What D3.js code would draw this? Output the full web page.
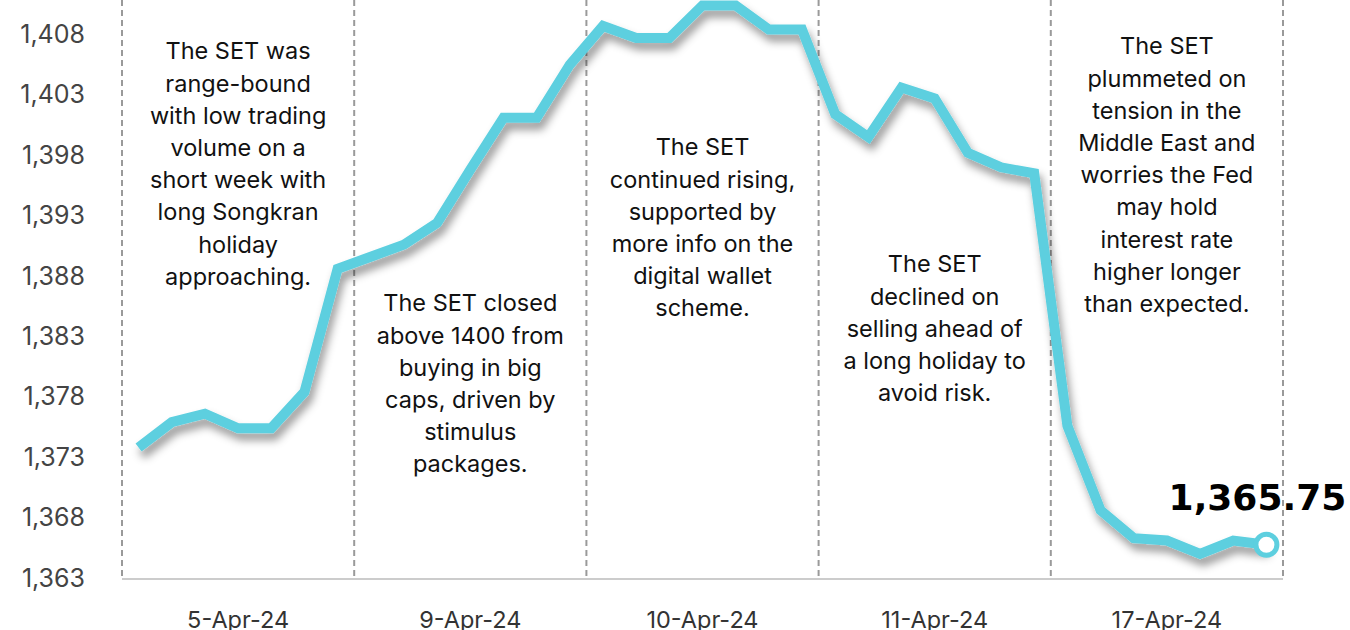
<!DOCTYPE html>
<html>
<head>
<meta charset="utf-8">
<script src="https://cdn.jsdelivr.net/npm/d3@7"></script>
<style>
  body { margin: 0; background: #fff; }
  svg { display: block; }
  .note { font-family: Inter, "Open Sans", sans-serif; font-size: 23.5px; fill: #111; }
  .ytick text { font-family: Inter, "Open Sans", sans-serif; font-size: 25px; fill: #444; }
  .xlab { font-family: Inter, "Open Sans", sans-serif; font-size: 23.5px; fill: #333; }
</style>
</head>
<body>
<div id="chart"></div>
<script>
// trading days shown along the bottom
const days = ['5-Apr-24', '9-Apr-24', '10-Apr-24', '11-Apr-24', '17-Apr-24'];
// SET index, 7 readings per day
const setIndex = [
  1373.8, 1375.9, 1376.6, 1375.4, 1375.4, 1378.4, 1388.6,
  1389.6, 1390.6, 1392.4, 1396.8, 1401.1, 1401.1, 1405.5,
  1408.7, 1407.7, 1407.7, 1410.4, 1410.4, 1408.4, 1408.4,
  1401.4, 1399.5, 1403.6, 1402.7, 1398.2, 1397.0, 1396.5,
  1375.6, 1368.6, 1366.3, 1366.1, 1365.0, 1366.1, 1365.75
];
const yTicks = [1363, 1368, 1373, 1378, 1383, 1388, 1393, 1398, 1403, 1408];
const notes = [
  ['The SET was', 'range-bound', 'with low trading', 'volume on a', 'short week with', 'long Songkran', 'holiday', 'approaching.'],
  ['The SET closed', 'above 1400 from', 'buying in big', 'caps, driven by', 'stimulus', 'packages.'],
  ['The SET', 'continued rising,', 'supported by', 'more info on the', 'digital wallet', 'scheme.'],
  ['The SET', 'declined on', 'selling ahead of', 'a long holiday to', 'avoid risk.'],
  ['The SET', 'plummeted on', 'tension in the', 'Middle East and', 'worries the Fed', 'may hold', 'interest rate', 'higher longer', 'than expected.']
];

const width = 1350, height = 630;
const left = 122, right = 1283, bottom = 578;
const noteTop = [51, 303, 147, 264, 46];   // first line centre of each note
const lineGap = 32.2;

const svg = d3.select('#chart').append('svg')
  .attr('width', width).attr('height', height);

const defs = svg.append('defs');
const shadow = defs.append('filter').attr('id', 'shadow')
  .attr('x', '-10%').attr('y', '-10%').attr('width', '130%').attr('height', '140%');
shadow.append('feDropShadow')
  .attr('dx', 3).attr('dy', 7).attr('stdDeviation', 4)
  .attr('flood-color', '#000').attr('flood-opacity', 0.4);

const x = d3.scaleBand().domain(d3.range(setIndex.length)).range([left, right]);
const xDay = d3.scaleBand().domain(days).range([left, right]);
const y = d3.scaleLinear().domain([1363, 1410.85]).range([bottom, 0]);

// y axis labels
svg.append('g')
  .attr('transform', `translate(${left},0)`)
  .call(d3.axisLeft(y).tickValues(yTicks).tickFormat(d3.format(',')).tickSize(0).tickPadding(37))
  .call(g => g.select('.domain').remove())
  .call(g => g.selectAll('.tick').attr('class', 'tick ytick'))
  .call(g => g.selectAll('text').attr('font-family', null).attr('font-size', null));

// baseline
svg.append('line')
  .attr('x1', left).attr('x2', right).attr('y1', bottom + 1).attr('y2', bottom + 1)
  .attr('stroke', '#ccc').attr('stroke-width', 2);

// day separators
const bounds = days.map(d => xDay(d)).concat([right]);
svg.append('g').selectAll('line')
  .data(bounds).join('line')
  .attr('x1', d => d).attr('x2', d => d)
  .attr('y1', 0).attr('y2', bottom + 2)
  .attr('stroke', '#9a9a9a').attr('stroke-width', 2)
  .attr('stroke-dasharray', '6,4');

// day labels
svg.append('g').selectAll('text')
  .data(days).join('text')
  .attr('class', 'xlab')
  .attr('x', d => xDay(d) + xDay.bandwidth() / 2)
  .attr('y', 628)
  .attr('text-anchor', 'middle')
  .text(d => d);

// notes
notes.forEach((lines, i) => {
  const cx = xDay(days[i]) + xDay.bandwidth() / 2;
  svg.append('g').selectAll('text')
    .data(lines).join('text')
    .attr('class', 'note')
    .attr('x', cx)
    .attr('y', (d, j) => noteTop[i] + j * lineGap)
    .attr('dy', '0.36em')
    .attr('text-anchor', 'middle')
    .text(d => d);
});

// index line
const px = i => x(i) + x.bandwidth() / 2;
const line = d3.line().x((d, i) => px(i)).y(d => y(d));
svg.append('path')
  .datum(setIndex)
  .attr('d', line)
  .attr('fill', 'none')
  .attr('stroke', '#5dcfdf')
  .attr('stroke-width', 10)
  .attr('stroke-linejoin', 'miter')
  .attr('filter', 'url(#shadow)');

// last value marker
const last = setIndex.length - 1;
svg.append('circle')
  .attr('cx', px(last)).attr('cy', y(setIndex[last]))
  .attr('r', 10.5)
  .attr('fill', '#fff')
  .attr('stroke', '#5dcfdf')
  .attr('stroke-width', 5);

svg.append('text')
  .attr('x', px(last) - 9)
  .attr('y', y(setIndex[last]) - 48)
  .attr('dy', '0.36em')
  .attr('text-anchor', 'middle')
  .attr('font-family', '"DejaVu Sans", sans-serif')
  .attr('font-weight', 'bold')
  .attr('font-size', 36)
  .attr('fill', '#000')
  .text(d3.format(',.2f')(setIndex[last]));
</script>
</body>
</html>
